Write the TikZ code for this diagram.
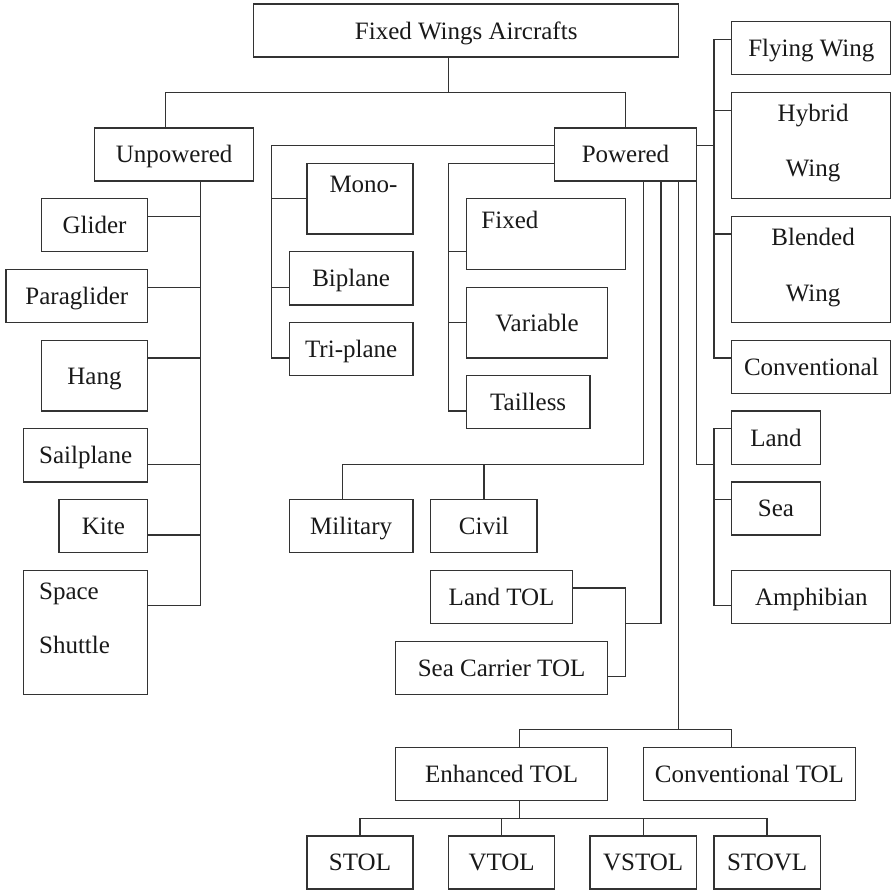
\documentclass[tikz,border=0pt]{standalone}
\usepackage{fontspec}
\setmainfont{Liberation Serif}
% box on the layout grid: name, x1, y1, x2, y2, text
\newcommand\gridbox[6]{%
  \node[box, minimum width={(#4-#2)*17.7pt}, minimum height={(#5-#3)*17.7pt}]
    (#1) at ({(#2+#4)/2},{(#3+#5)/2}) {#6};}
\begin{document}
\begin{tikzpicture}[x=17.7pt,y=-17.7pt,
  txt/.style={inner sep=0pt, text=black!90, font=\fontsize{25}{30}\selectfont,
    text height=17pt, text depth=0pt},
  box/.style={txt, rectangle, draw=black!80, line width=1.3pt},
  link/.style={draw=black!80, line width=1.3pt, line join=miter}]

\fill[white] (-0.339,-0.226) rectangle (49.944,50.113);
\useasboundingbox (-0.339,-0.226) rectangle (49.944,50.113);

% ---------- boxes ----------
\gridbox{top}{14}{0}{38}{3}{Fixed Wings Aircrafts}
\gridbox{unpow}{5}{7}{14}{10}{Unpowered}
\gridbox{pow}{31}{7}{39}{10}{Powered}

\gridbox{glider}{2}{11}{8}{14}{Glider}
\gridbox{paraglider}{0}{15}{8}{18}{Paraglider}
\gridbox{hang}{2}{19}{8}{23}{Hang}
\gridbox{sailplane}{1}{24}{8}{27}{Sailplane}
\gridbox{kite}{3}{28}{8}{31}{Kite}
\gridbox{shuttle}{1}{32}{8}{39}{}
\node[txt, anchor=west] (shuttleA) at (1.86,33.15) {Space};
\node[txt, anchor=west] (shuttleB) at (1.86,36.23) {Shuttle};

\gridbox{mono}{17}{9}{23}{13}{}
\node[txt] (monoT) at (20.2,10.17) {Mono-};
\gridbox{biplane}{16}{14}{23}{17}{Biplane}
\gridbox{triplane}{16}{18}{23}{21}{Tri-plane}

\gridbox{fixed}{26}{11}{35}{15}{}
\node[txt] (fixedT) at (28.47,12.2) {Fixed};
\gridbox{variable}{26}{16}{34}{20}{Variable}
\gridbox{tailless}{26}{21}{33}{24}{Tailless}

\gridbox{flying}{41}{1}{50}{4}{Flying Wing}
\gridbox{hybrid}{41}{5}{50}{11}{}
\node[txt] (hybridA) at (45.6,6.13) {Hybrid};
\node[txt] (hybridB) at (45.6,9.29) {Wing};
\gridbox{blended}{41}{12}{50}{18}{}
\node[txt] (blendedA) at (45.6,13.16) {Blended};
\node[txt] (blendedB) at (45.6,16.33) {Wing};
\gridbox{conv}{41}{19}{50}{22}{Conventional}

\gridbox{land}{41}{23}{46}{26}{Land}
\gridbox{sea}{41}{27}{46}{30}{Sea}
\gridbox{amph}{41}{32}{50}{35}{Amphibian}

\gridbox{military}{16}{28}{23}{31}{Military}
\gridbox{civil}{24}{28}{30}{31}{Civil}

\gridbox{landtol}{24}{32}{32}{35}{Land TOL}
\gridbox{seatol}{22}{36}{34}{39}{Sea Carrier TOL}

\gridbox{enh}{22}{42}{34}{45}{Enhanced TOL}
\gridbox{convtol}{36}{42}{48}{45}{Conventional TOL}

\gridbox{stol}{17}{47}{23}{50}{STOL}
\gridbox{vtol}{25}{47}{31}{50}{VTOL}
\gridbox{vstol}{33}{47}{39}{50}{VSTOL}
\gridbox{stovl}{40}{47}{46}{50}{STOVL}

% ---------- connectors ----------
% root split
\coordinate (t0) at (25,5);
\coordinate (tL) at (9,5);
\coordinate (tR) at (35,5);
\draw[link] (top.south -| t0) -- (t0);
\draw[link] (unpow.north -| tL) -- (tL) -- (tR) -- (pow.north -| tR);

% unpowered family
\coordinate (ub) at (11,34);
\draw[link] (unpow.south -| ub) -- (ub) -- (shuttle.east |- ub);
\foreach \n/\y in {glider/12, paraglider/16, hang/20, sailplane/26, kite/30}{
  \coordinate (b\n) at (11,\y);
  \draw[link] (b\n) -- (\n.east |- b\n);
}

% number of wings
\coordinate (p1) at (15,8);
\coordinate (p1e) at (15,20);
\draw[link] (pow.west |- p1) -- (p1) -- (p1e) -- (triplane.west |- p1e);
\foreach \n/\y in {mono/11, biplane/16}{
  \coordinate (b\n) at (15,\y);
  \draw[link] (b\n) -- (\n.west |- b\n);
}

% tail configuration
\coordinate (p2) at (25,9);
\coordinate (p2e) at (25,23);
\draw[link] (pow.west |- p2) -- (p2) -- (p2e) -- (tailless.west |- p2e);
\foreach \n/\y in {fixed/14, variable/18}{
  \coordinate (b\n) at (25,\y);
  \draw[link] (b\n) -- (\n.west |- b\n);
}

% wing / body configuration
\coordinate (r1) at (40,8);
\coordinate (r1t) at (40,2);
\coordinate (r1b) at (40,20);
\draw[link] (pow.east |- r1) -- (r1);
\draw[link] (flying.west |- r1t) -- (r1t) -- (r1b) -- (conv.west |- r1b);
\foreach \n/\y in {hybrid/6, blended/13}{
  \coordinate (b\n) at (40,\y);
  \draw[link] (b\n) -- (\n.west |- b\n);
}

% operating surface
\coordinate (r2) at (39,26);
\coordinate (r2b) at (40,26);
\coordinate (r2t) at (40,24);
\coordinate (r2e) at (40,34);
\draw[link] (pow.south -| r2) -- (r2) -- (r2b);
\draw[link] (land.west |- r2t) -- (r2t) -- (r2e) -- (amph.west |- r2e);
\coordinate (bsea) at (40,28);
\draw[link] (bsea) -- (sea.west |- bsea);

% usage
\coordinate (c1) at (36,26);
\coordinate (cm) at (19,26);
\coordinate (cc) at (27,26);
\draw[link] (pow.south -| c1) -- (c1) -- (cm) -- (military.north -| cm);
\draw[link] (cc) -- (civil.north -| cc);

% take-off base
\coordinate (d1) at (37,35);
\coordinate (d2) at (35,35);
\coordinate (dt) at (35,33);
\coordinate (db) at (35,38);
\draw[link] (pow.south -| d1) -- (d1) -- (d2);
\draw[link] (landtol.east |- dt) -- (dt) -- (db) -- (seatol.east |- db);

% take-off and landing
\coordinate (e1) at (38,41);
\coordinate (eL) at (29,41);
\coordinate (eR) at (41,41);
\draw[link] (pow.south -| e1) -- (e1);
\draw[link] (enh.north -| eL) -- (eL) -- (eR) -- (convtol.north -| eR);

% enhanced take-off and landing
\coordinate (f0) at (29,46);
\coordinate (fA) at (20,46);
\coordinate (fB) at (28,46);
\coordinate (fC) at (36,46);
\coordinate (fD) at (43,46);
\draw[link] (enh.south -| f0) -- (f0);
\draw[link] (stol.north -| fA) -- (fA) -- (fD) -- (stovl.north -| fD);
\draw[link] (fB) -- (vtol.north -| fB);
\draw[link] (fC) -- (vstol.north -| fC);

\end{tikzpicture}
\end{document}
